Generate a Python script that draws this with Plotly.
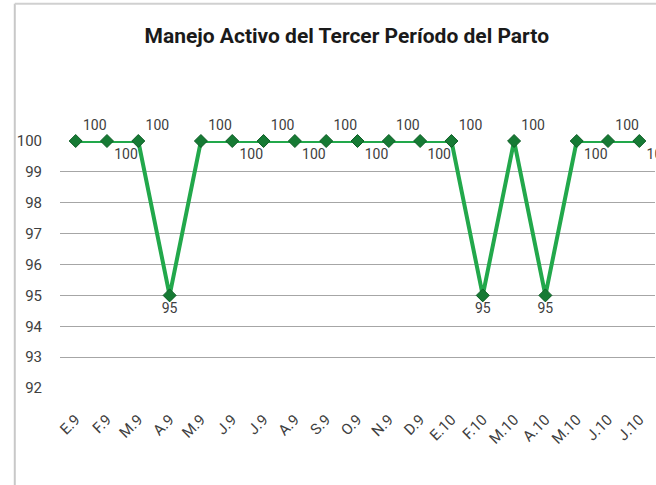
import plotly.graph_objects as go

# Datos
meses = ["E.9", "F.9", "M.9", "A.9", "M.9", "J.9", "J.9", "A.9", "S.9", "O.9",
         "N.9", "D.9", "E.10", "F.10", "M.10", "A.10", "M.10", "J.10", "J.10"]
valores = [100, 100, 100, 95, 100, 100, 100, 100, 100, 100,
           100, 100, 100, 95, 100, 95, 100, 100, 100]
posicion_etiquetas = ["top right", "bottom right", "top right", "bottom center", "top right",
                      "bottom right", "top right", "bottom right", "top right", "bottom right",
                      "top right", "bottom right", "top right", "bottom center", "top right",
                      "bottom center", "bottom right", "top right", "bottom right"]

FUENTE = "Roboto, Arial, sans-serif"
VERDE = "#22a84b"
VERDE_OSCURO = "#167a34"

# Usamos índices para permitir categorías repetidas (M.9, J.9, ...)
x = list(range(len(meses)))

fig = go.Figure()
fig.add_trace(go.Scatter(
    x=x,
    y=valores,
    mode="lines+markers+text",
    line=dict(color=VERDE, width=4),
    marker=dict(symbol="diamond", size=10, color=VERDE_OSCURO,
                line=dict(color="#0f5e27", width=1)),
    text=[str(v) for v in valores],
    textposition=posicion_etiquetas,
    textfont=dict(family=FUENTE, size=14, color="#404040"),
    cliponaxis=False,
    showlegend=False,
))

fig.update_layout(
    width=656,
    height=485,
    margin=dict(l=60, r=1, t=141, b=97, autoexpand=False),
    paper_bgcolor="white",
    plot_bgcolor="white",
    title=dict(
        text="<b>Manejo Activo del Tercer Período del Parto</b>",
        font=dict(family=FUENTE, size=21, color="#1a1a1a"),
        x=0.482, xref="paper", xanchor="center",
        y=1 - 36 / 485, yanchor="middle",
    ),
    shapes=[
        # marco gris del gráfico (izquierda y arriba)
        dict(type="line", xref="paper", yref="paper", x0=-0.076, x1=-0.076, y0=-0.5, y1=1.556,
             line=dict(color="#c8c8c8", width=2)),
        dict(type="line", xref="paper", yref="paper", x0=-0.076, x1=1.1, y0=1.556, y1=1.556,
             line=dict(color="#d0d0d0", width=2)),
    ],
)

fig.update_xaxes(
    range=[-0.5, len(meses) - 0.5],
    tickmode="array",
    tickvals=x,
    ticktext=meses,
    tickangle=-45,
    ticks="outside",
    ticklen=16,
    tickcolor="rgba(0,0,0,0)",
    tickfont=dict(family=FUENTE, size=15, color="#404040"),
    showgrid=False,
    showline=False,
    zeroline=False,
    automargin=False,
)

fig.update_yaxes(
    range=[92, 100],
    dtick=1,
    ticks="outside",
    ticklen=14,
    tickcolor="rgba(0,0,0,0)",
    tickfont=dict(family=FUENTE, size=15, color="#404040"),
    showgrid=True,
    gridcolor="#a6a6a6",
    gridwidth=1,
    showline=False,
    zeroline=False,
    automargin=False,
)

# quitar el margen por defecto del <body> para que el gráfico quede en (0,0)
fig.write_html("out.html", config={"displayModeBar": False},
               post_script="document.body.style.margin='0';")
